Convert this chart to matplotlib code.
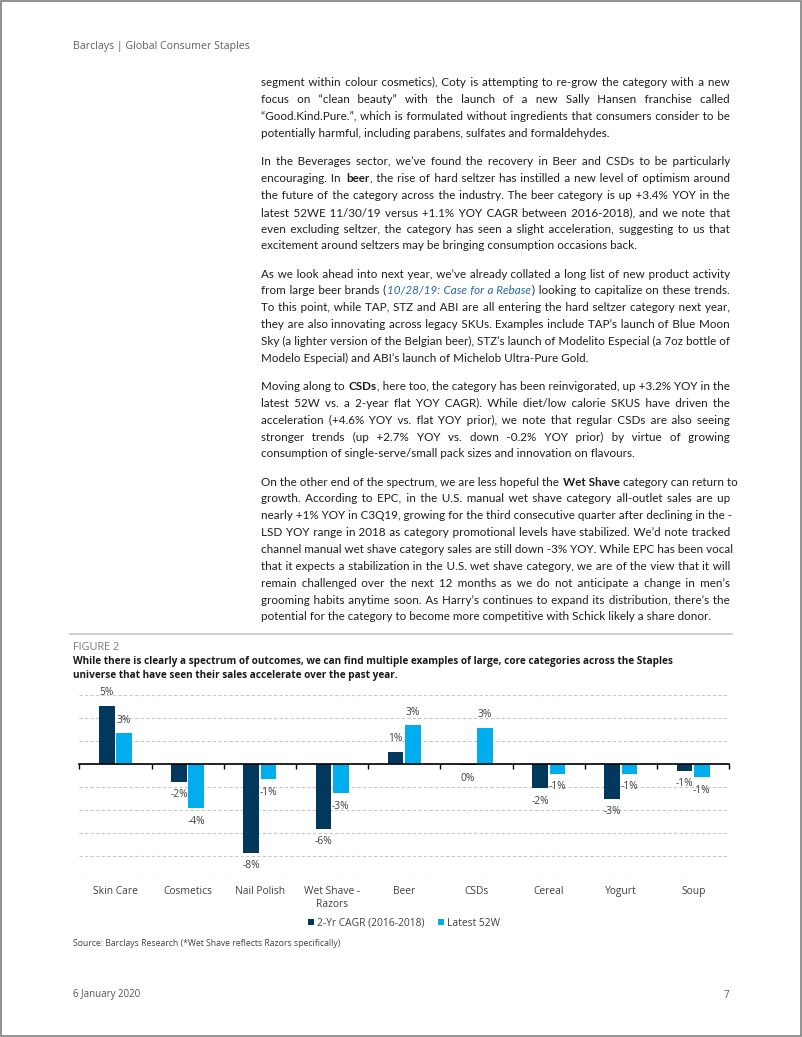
import matplotlib
matplotlib.use("Agg")
import matplotlib.pyplot as plt
import numpy as np
from matplotlib.patches import Rectangle
from matplotlib.lines import Line2D

W, H = 802, 1037
FONT = "Open Sans"
BODY_FONT = "Lato"
plt.rcParams['font.family'] = [FONT, 'DejaVu Sans']

# chart data
categories = ['Skin Care', 'Cosmetics', 'Nail Polish', 'Wet Shave -\nRazors', 'Beer',
              'CSDs', 'Cereal', 'Yogurt', 'Soup']
cagr = [5.1, -1.5, -7.7, -5.6, 1.1, -0.1, -2.1, -3.0, -0.55]
latest = [2.7, -3.8, -1.3, -2.5, 3.4, 3.2, -0.8, -0.8, -1.1]
series_names = ['2-Yr CAGR (2016-2018)', 'Latest 52W']

# page text (* = bold, ~ = italic link)
header = 'Barclays | Global Consumer Staples'
paragraphs = [
    ["segment within colour cosmetics), Coty is attempting to re-grow the category with a new",
     "focus on \u201cclean beauty\u201d with the launch of a new Sally Hansen franchise called",
     "\u201cGood.Kind.Pure.\u201d, which is formulated without ingredients that consumers consider to be",
     "potentially harmful, including parabens, sulfates and formaldehydes."],
    ["In the Beverages sector, we\u2019ve found the recovery in Beer and CSDs to be particularly",
     "encouraging. In *beer*, the rise of hard seltzer has instilled a new level of optimism around",
     "the future of the category across the industry. The beer category is up +3.4% YOY in the",
     "latest 52WE 11/30/19 versus +1.1% YOY CAGR between 2016-2018), and we note that",
     "even excluding seltzer, the category has seen a slight acceleration, suggesting to us that",
     "excitement around seltzers may be bringing consumption occasions back."],
    ["As we look ahead into next year, we\u2019ve already collated a long list of new product activity",
     "from large beer brands (~10/28/19: Case for a Rebase~) looking to capitalize on these trends.",
     "To this point, while TAP, STZ and ABI are all entering the hard seltzer category next year,",
     "they are also innovating across legacy SKUs. Examples include TAP\u2019s launch of Blue Moon",
     "Sky (a lighter version of the Belgian beer), STZ\u2019s launch of Modelito Especial (a 7oz bottle of",
     "Modelo Especial) and ABI\u2019s launch of Michelob Ultra-Pure Gold."],
    ["Moving along to *CSDs*, here too, the category has been reinvigorated, up +3.2% YOY in the",
     "latest 52W vs. a 2-year flat YOY CAGR). While diet/low calorie SKUS have driven the",
     "acceleration (+4.6% YOY vs. flat YOY prior), we note that regular CSDs are also seeing",
     "stronger trends (up +2.7% YOY vs. down -0.2% YOY prior) by virtue of growing",
     "consumption of single-serve/small pack sizes and innovation on flavours."],
    ["On the other end of the spectrum, we are less hopeful the *Wet Shave* category can return to",
     "growth. According to EPC, in the U.S. manual wet shave category all-outlet sales are up",
     "nearly +1% YOY in C3Q19, growing for the third consecutive quarter after declining in the -",
     "LSD YOY range in 2018 as category promotional levels have stabilized. We\u2019d note tracked",
     "channel manual wet shave category sales are still down -3% YOY. While EPC has been vocal",
     "that it expects a stabilization in the U.S. wet shave category, we are of the view that it will",
     "remain challenged over the next 12 months as we do not anticipate a change in men\u2019s",
     "grooming habits anytime soon. As Harry\u2019s continues to expand its distribution, there\u2019s the",
     "potential for the category to become more competitive with Schick likely a share donor."],
]
fig_label = 'FIGURE 2'
fig_title = ['While there is clearly a spectrum of outcomes, we can find multiple examples of large, core categories across the Staples',
             'universe that have seen their sales accelerate over the past year.']
source = 'Source: Barclays Research (*Wet Shave reflects Razors specifically)'
date = '6 January 2020'
page_no = '7'

DARK = '#00395D'
CYAN = '#00AEEF'
TXT = '#1e1e1e'
GREY = '#404040'
LINK = '#2566a8'

fig = plt.figure(figsize=(W / 100, H / 100), dpi=100)
renderer = fig.canvas.get_renderer()


def fx(x):
    return x / W


def fy(y):
    return 1 - y / H


# page border
fig.patches.append(Rectangle((0.0008, 0.0008), 0.9984, 0.9984, transform=fig.transFigure,
                             fill=False, edgecolor='#808080', lw=1.2))

fig.text(fx(73), fy(46.7), header, fontsize=7.65, color='#606060', va='center')

BODY_FS = 8.4
X0, X1 = 261, 730
HAIR = '\u200a'
BEAR = 0.8


def style_kw(b, i):
    return dict(fontsize=BODY_FS, family=[BODY_FONT, 'DejaVu Sans'],
                color=LINK if i else TXT, fontweight='bold' if b else 'normal',
                fontstyle='italic' if i else 'normal')


def ink_w(s, kw):
    t = fig.text(0, 0, s, **kw)
    w = t.get_window_extent(renderer).width
    t.remove()
    return w


plain = style_kw(False, False)
hair_w = (ink_w('a' + HAIR * 20 + 'a', plain) - ink_w('aa', plain)) / 20
space_w = ink_w('a a', plain) - ink_w('aa', plain)


def parse(line):
    segs, buf = [], ''
    bold = ital = False
    for ch in line:
        if ch in '*~':
            if buf:
                segs.append((buf, bold, ital))
                buf = ''
            if ch == '*':
                bold = not bold
            else:
                ital = not ital
        else:
            buf += ch
    if buf:
        segs.append((buf, bold, ital))
    return segs


def layout(segs, base, counts):
    gi = 0
    x = X0
    texts = []
    for k, (s, b, i) in enumerate(segs):
        kw = style_kw(b, i)
        if s.startswith(' '):
            x += space_w + counts[gi] * hair_w + BEAR
            gi += 1
        elif k > 0:
            x += BEAR
        parts = s.strip(' ').split(' ')
        txt = parts[0]
        for p in parts[1:]:
            txt += ' ' + HAIR * counts[gi] + p
            gi += 1
        t = fig.text(fx(x), fy(base), txt, va='baseline', **kw)
        x += t.get_window_extent(renderer).width
        texts.append(t)
        if s.endswith(' '):
            x += space_w + counts[gi] * hair_w
            gi += 1
    return x, texts


def draw_line(line, yc, justify):
    segs = parse(line)
    base = round(yc + 3.8)
    n = sum(s.count(' ') for s, _, _ in segs)
    x_end, texts = layout(segs, base, [0] * n)
    if justify and n > 0:
        for t in texts:
            t.remove()
        total = max(0, round((X1 - x_end) / hair_w))
        counts = [round((k + 1) * total / n) - round(k * total / n) for k in range(n)]
        layout(segs, base, counts)


LINE_H, PARA_H = 16.85, 28.15
y = 82.7
for para in paragraphs:
    for k, line in enumerate(para):
        draw_line(line, y, k < len(para) - 1)
        if k < len(para) - 1:
            y += LINE_H
    y += PARA_H

fig.add_artist(Line2D([fx(70), fx(732)], [fy(634.3), fy(634.3)], transform=fig.transFigure,
                      color='#c4c4c4', lw=1.1))
fig.text(fx(73), fy(647.7), fig_label, fontsize=7.8, color='#7a7a7a', va='center')
for k, tl in enumerate(fig_title):
    fig.text(fx(73), fy(661.7 + 13.4 * k), tl, fontsize=7.2, fontweight='bold', color='#1a1a1a',
             va='center')

# chart
ax = fig.add_axes([fx(79.3), 157.7 / H, 650 / W, 184 / H])
x = np.arange(len(categories))
bw, off = 0.2175, 0.12
ax.bar(x - off, cagr, bw, color=DARK, label=series_names[0], zorder=3)
ax.bar(x + off, latest, bw, color=CYAN, label=series_names[1], zorder=3)
ax.set_xlim(-0.5, len(categories) - 0.5)
ax.set_ylim(-10, 6)
ax.set_yticks(np.arange(-10, 7, 2))
ax.yaxis.grid(True, linestyle=(0, (3, 2)), color='#c8c8c8', lw=0.8)
ax.set_axisbelow(True)
ax.tick_params(axis='y', length=0, labelleft=False)
for s in ['top', 'right', 'left']:
    ax.spines[s].set_visible(False)
ax.spines['bottom'].set_position(('data', 0))
ax.spines['bottom'].set_color('black')
ax.spines['bottom'].set_linewidth(1.2)
ax.spines['bottom'].set_zorder(4)
ax.set_xticks(np.arange(len(categories) + 1) - 0.5)
ax.tick_params(axis='x', length=3.5, width=1, color='black', direction='out', labelbottom=False)


def pct(v):
    r = int(np.sign(v) * np.floor(abs(v) + 0.5))
    return f'{r}%'


for vals, sh in [(cagr, -off), (latest, off)]:
    for xi, v in zip(x, vals):
        ax.annotate(pct(v), (xi + sh, v), xytext=(0, 9.4 if v > 0 else -9.4),
                    textcoords='offset points', ha='center', va='center', fontsize=7.4,
                    color=GREY, zorder=5)

for xi, c in zip(x, categories):
    ax.text(xi, -0.035, c, transform=ax.get_xaxis_transform(), ha='center', va='top',
            fontsize=7.4, color=GREY, linespacing=1.25)

ax.legend(loc='center', bbox_to_anchor=(0.5, -0.2375), ncol=2, frameon=False, fontsize=7.4,
          handlelength=0.55, handleheight=0.55, handletextpad=0.35, columnspacing=1.3,
          labelcolor=GREY)

fig.text(fx(73), fy(943), source, fontsize=6.2, color=GREY, va='center')
fig.text(fx(73), fy(995), date, fontsize=7.0, color='#555555', va='center')
fig.text(fx(729), fy(995), page_no, fontsize=7.0, color='#555555', va='center', ha='right')

fig.savefig('out.png', dpi=100)
